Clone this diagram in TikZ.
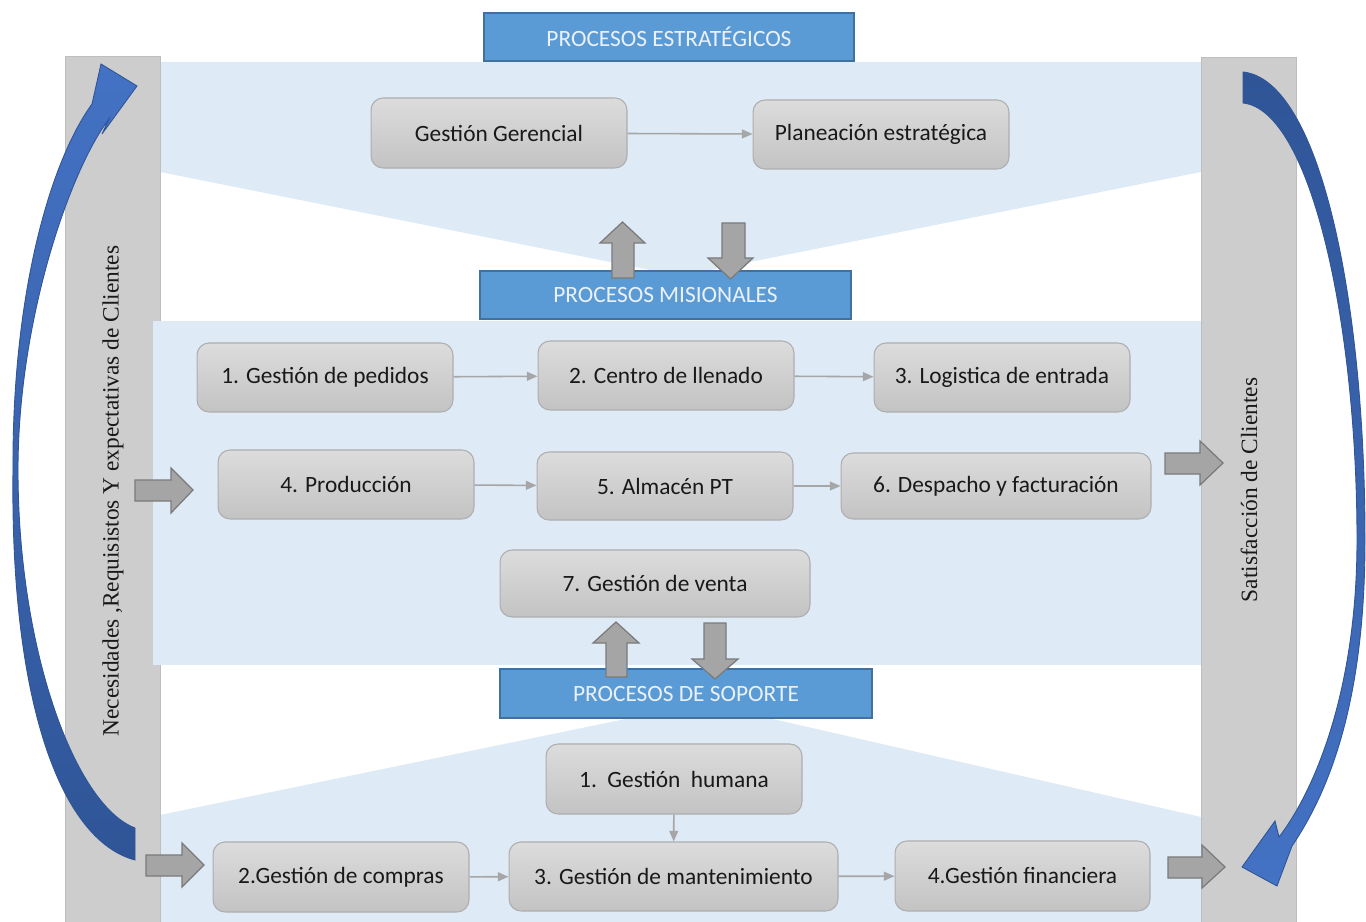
\documentclass[tikz,border=0pt]{standalone}
\usepackage{fontspec}
\setmainfont{Liberation Serif}
\newfontfamily\boxfont{Carlito}
\usetikzlibrary{arrows.meta}

\definecolor{bandblue}{HTML}{DEEAF6}
\definecolor{bargray}{HTML}{CDCDCD}
\definecolor{barline}{HTML}{BEBEBE}
\definecolor{headfill}{HTML}{5B9BD5}
\definecolor{headline}{HTML}{41719C}
\definecolor{headtext}{HTML}{EAF1FA}
\definecolor{boxtop}{HTML}{DCDCDC}
\definecolor{boxbot}{HTML}{C3C3C3}
\definecolor{boxline}{HTML}{AEAEAE}
\definecolor{linkgray}{HTML}{A6A6A6}
\definecolor{blockfill}{HTML}{A5A5A5}
\definecolor{blockline}{HTML}{7A7A7A}
\definecolor{cycleblue}{HTML}{4472C4}
\definecolor{cycledark}{HTML}{2F5597}

\begin{document}
\begin{tikzpicture}[x=0.02cm,y=-0.02cm,
  proc/.style={draw=boxline, line width=0.6pt, rounded corners=0.24cm,
    top color=boxtop, bottom color=boxbot, text=black!90,
    font=\boxfont\fontsize{13.3}{16}\selectfont, inner sep=0pt,
    minimum width=5.12cm, minimum height=1.4cm},
  header/.style={draw=headline, line width=0.8pt, fill=headfill, text=headtext,
    font=\boxfont\fontsize{13.3}{16}\selectfont, inner sep=0pt,
    minimum height=0.96cm},
  link/.style={draw=linkgray, line width=0.9pt, -{Triangle[length=6pt,width=5pt]}},
  block/.style={fill=blockfill, draw=blockline, line width=0.7pt},
  side/.style={font=\fontsize{13.3}{16}\selectfont, rotate=90, text=black!90},
  cyc/.style={draw=cycledark, line width=0.5pt}]

\useasboundingbox (0,0) rectangle (1366,922);

% light blue bands: strategic funnel, mission band, support funnel
\fill[bandblue] (160,62) -- (1201,62) -- (1201,172) -- (680,276) -- (160,172) -- cycle;
\fill[bandblue] (160,815) -- (703,703) -- (1201,817) -- (1201,922) -- (160,922) -- cycle;

% side bars
\filldraw[fill=bargray, draw=barline] (65,56) rectangle (160,922);
\filldraw[fill=bargray, draw=barline] (1201,57) rectangle (1296,922);

\fill[bandblue] (153,321) rectangle (1201,665);

% side labels
\node[side] (need) at (113,491) {Necesidades ,Requisistos Y expectativas de Clientes};
\node[side] (sat) at (1249,490) {Satisfacción de Clientes};

% curved cycle arrows
\path[cyc, top color=cycleblue, bottom color=cycledark]
  (135,860) .. controls (60,840) and (10,700) .. (13,470)
  .. controls (12,300) and (48,165) .. (92,104)
  -- (101,64) -- (137,86) -- (102,134) -- (109,119)
  .. controls (70,170) and (18,320) .. (18,470)
  .. controls (18,650) and (75,805) .. (135,828) -- cycle;
\path[cyc, top color=cycledark, bottom color=cycleblue]
  (1243,72) .. controls (1320,80) and (1365,300) .. (1365,540)
  .. controls (1365,700) and (1330,790) .. (1292,846)
  -- (1277,886) -- (1242,867) -- (1275,821) -- (1279,837)
  .. controls (1315,790) and (1357,690) .. (1357,540)
  .. controls (1357,320) and (1310,110) .. (1243,103) -- cycle;

% section headers
\node[header, minimum width=7.4cm] (hE) at (669,37) {PROCESOS ESTRATÉGICOS};
\node[header, minimum width=7.42cm] (hM) at (665.5,295) {PROCESOS MISIONALES};
\node[header, minimum width=7.44cm, minimum height=0.98cm] (hS) at (686,693.5) {PROCESOS DE SOPORTE};

% strategic processes
\node[proc] (gg) at (499,133) {Gestión Gerencial};
\node[proc, minimum height=1.38cm] (pe) at (881,134.5) {Planeación estratégica};

% mission processes
\node[proc, minimum height=1.38cm] (m1) at (325,377.5) {1. Gestión de pedidos};
\node[proc, minimum height=1.38cm] (m2) at (666,375.5) {2. Centro de llenado};
\node[proc, minimum height=1.38cm] (m3) at (1002,377.5) {3. Logistica de entrada};
\node[proc, minimum height=1.38cm] (m4) at (346,484.5) {4. Producción};
\node[proc, minimum height=1.36cm] (m5) at (665,486) {5. Almacén PT};
\node[proc, minimum width=6.2cm, minimum height=1.32cm] (m6) at (996,486) {6. Despacho y facturación};
\node[proc, minimum width=6.2cm, minimum height=1.34cm] (m7) at (655,583.5) {7. Gestión de venta};

% support processes
\node[proc] (s1) at (674,779) {1.\ \ Gestión\ \ humana};
\node[proc] (s2) at (341,877) {2.Gestión de compras};
\node[proc, minimum width=6.58cm, minimum height=1.38cm] (s3) at (673.5,876.5) {3. Gestión de mantenimiento};
\node[proc, minimum width=5.1cm] (s4) at (1022.5,876) {4.Gestión financiera};

% process flow
\draw[link] (gg) -- (pe);
\draw[link] (m1) -- (m2);
\draw[link] (m2) -- (m3);
\draw[link] (m4) -- (m5);
\draw[link] (m5) -- (m6);
\draw[link] (s1) -- (s3);
\draw[link] (s2) -- (s3);
\draw[link] (s3) -- (s4);

% block arrows between levels
\filldraw[block] (612,278) -- (612,243) -- (600,243) -- (622.5,222) -- (645,243) -- (634,243) -- (634,278) -- cycle;
\filldraw[block] (722,223) -- (745,223) -- (745,258) -- (753,258) -- (730.5,279) -- (708,258) -- (722,258) -- cycle;
\filldraw[block] (606,677) -- (606,643) -- (593,643) -- (616,622) -- (639,643) -- (627,643) -- (627,677) -- cycle;
\filldraw[block] (704,623) -- (726,623) -- (726,659) -- (738,659) -- (715,679) -- (692,659) -- (704,659) -- cycle;

% block arrows into and out of the process map
\filldraw[block] (135,480) -- (171,480) -- (171,468) -- (193,490) -- (171,513) -- (171,501) -- (135,501) -- cycle;
\filldraw[block] (146,855) -- (182,855) -- (182,843) -- (204,865) -- (182,887) -- (182,876) -- (146,876) -- cycle;
\filldraw[block] (1165,453) -- (1200,453) -- (1200,441) -- (1223,463) -- (1200,485) -- (1200,474) -- (1165,474) -- cycle;
\filldraw[block] (1168,857) -- (1202,857) -- (1202,845) -- (1225,867) -- (1202,888) -- (1202,878) -- (1168,878) -- cycle;

\end{tikzpicture}
\end{document}
